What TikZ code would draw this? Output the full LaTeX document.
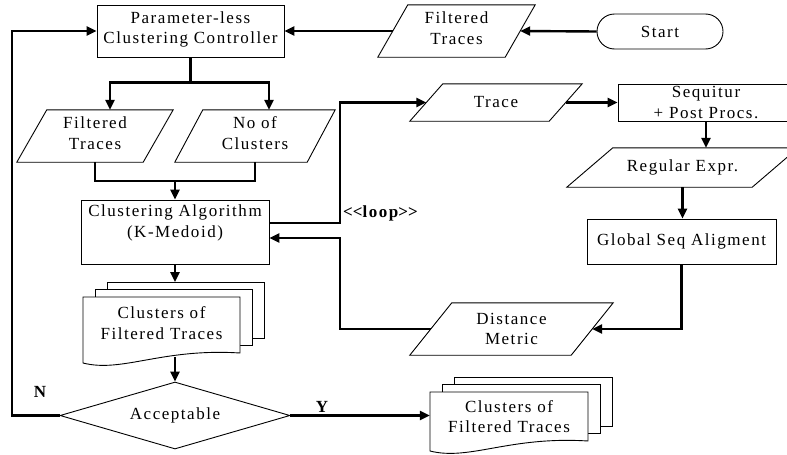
\documentclass[tikz,border=0pt]{standalone}
\usepackage{fontspec}
\setmainfont{Liberation Serif}[LetterSpace=9]
\usetikzlibrary{arrows.meta,shapes.geometric,calc}

\newcommand\diagfont{\fontsize{17}{20.5}\selectfont}

\tikzset{
  outline/.style={draw=black, line width=0.9pt},
  procbox/.style={outline, rectangle, fill=white, inner sep=0pt, align=center},
  iotext/.style={rectangle, inner sep=0pt, align=center},
  link/.style={line width=2.4pt},
  flow/.style={link, -{Triangle[length=10pt,width=9pt]}},
  tag/.style={font=\diagfont\bfseries, inner sep=0pt},
}

% Input/output parallelogram: name, centre, body width, height, slant, text raise, text
\newcommand\IOBox[7]{%
  \node[iotext, minimum width=#3, minimum height=#4] (#1) at (#2) {};
  \node[iotext] (#1-text) at ([yshift=#6]#1.center) {#7};
  \draw[outline] ([xshift=-#5/2]#1.south west) -- ([xshift=#5/2]#1.north west)
    -- ([xshift=#5/2]#1.north east) -- ([xshift=-#5/2]#1.south east) -- cycle;
}

% Stack of documents: name, left, top, width, height, text raise, text
\newcommand\DocStack[7]{%
  \foreach \k in {2,1}{%
    \draw[outline, fill=white] ({#2+12*\k},{#3-7.5*\k}) rectangle ++(#4,#5);
  }
  \draw[outline, fill=white] (#2,#3) -- ++(#4,0) -- ++(0,#5)
    .. controls ({#2+0.5*#4},{#3+#5-5}) and ({#2+0.25*#4},{#3+#5+20}) .. (#2,{#3+#5+10})
    -- cycle;
  \node[iotext, minimum width=#4, minimum height=#5] (#1) at ({#2+#4/2},{#3+#5/2}) {};
  \node[iotext] (#1-text) at ([yshift=#6]#1.center) {#7};
  \coordinate (#1-top) at ({#2+#4/2},{#3-15});
}

\begin{document}
\begin{tikzpicture}[x=1pt, y=-1pt, every node/.append style={font=\diagfont}]
  \fill[white] (0,0) rectangle (787,455);
  \useasboundingbox (0,0) rectangle (787,455);

  % nodes
  \node[procbox, minimum width=187, minimum height=52,
    label={[yshift=1.5, align=center, inner sep=0pt]center:{Parameter-less\\Clustering Controller}}]
    (ctrl) at (190.5,31) {};
  \IOBox{ft0}{456.5,31}{127}{52}{30}{3}{Filtered\\Traces}
  \node[procbox, rounded corners=17.5, minimum width=126, minimum height=35] (start)
    at (660,31.5) {Start};

  \IOBox{ft1}{95,136}{126}{52}{30}{3}{Filtered\\Traces}
  \IOBox{noc}{255,136}{132}{52}{28}{3}{No of\\Clusters}
  \node[procbox, minimum width=188, minimum height=64,
    label={[anchor=north, yshift=-5, align=center, inner sep=0pt]north:{Clustering Algorithm\\(K-Medoid)}}]
    (alg) at (175,232) {};

  \IOBox{trace}{496,102.5}{139}{37}{33}{0}{Trace}
  \node[procbox, minimum width=176, minimum height=37] (seq) at (706,102.5)
    {Sequitur\\+ Post Procs.};
  \IOBox{regex}{682.5,167.5}{185}{39}{46}{0}{Regular Expr.}
  \node[procbox, minimum width=189, minimum height=45] (gsa) at (681.5,241.5)
    {Global Seq Aligment};
  \IOBox{dist}{511.5,329}{161}{52}{42}{0}{Distance\\Metric}

  \DocStack{docA}{83}{297}{157}{56}{2}{Clusters of\\Filtered Traces}
  \node[diamond, outline, fill=white, minimum width=230, minimum height=67,
    inner sep=0pt, aspect=3.4] (dec) at (175,415.5) {Acceptable};
  \DocStack{docB}{430}{392}{158}{49}{0}{Clusters of\\Filtered Traces}

  % helper points for the routed connectors
  \coordinate (split) at ($(ctrl.south)+(0,25)$);
  \coordinate (merge) at (175,181);
  \coordinate (loopcol) at (340,0);
  \coordinate (leftcol) at (12,0);
  \coordinate (ret) at ([yshift=-6]alg.east);

  % connectors
  \draw[flow] (start.west) -- (ft0.east);
  \draw[flow] (ft0.west) -- (ctrl.east);
  \draw[link] (ctrl.south) -- (split);
  \draw[flow] (split) -| ([xshift=15]ft1.north);
  \draw[flow] (split) -| ([xshift=14]noc.north);
  \draw[link] (ft1.south) |- (merge) -| (noc.south);
  \draw[flow] (merge) -- (alg.north);

  \draw[flow] ([yshift=9]alg.east) -| (loopcol |- trace.west) -- (trace.west);
  \node[tag, anchor=west] (looplbl) at (343,213) {\mbox{<}\mbox{<}loop\mbox{>}\mbox{>}};
  \draw[flow] (trace.east) -- (seq.west);
  \draw[flow] (seq.south) -- (seq.south |- regex.north);
  \draw[flow] (regex.south) -- (regex.south |- gsa.north);
  \draw[flow] (gsa.south) |- (dist.east);
  \draw[flow] (dist.west) -| (loopcol |- ret) -- (ret);

  \draw[flow] (alg.south) -- (alg.south |- docA-top);
  \draw[flow] ([yshift=-4]dec.north |- docA.south) -- (dec.north);

  \draw[flow] (dec.west) -| (leftcol |- ctrl.west) -- (ctrl.west);
  \node[tag] (nlbl) at (40,392) {N};
  \draw[flow] (dec.east) -- (dec.east -| docB.west);
  \node[tag] (ylbl) at (322,407) {Y};
\end{tikzpicture}
\end{document}
